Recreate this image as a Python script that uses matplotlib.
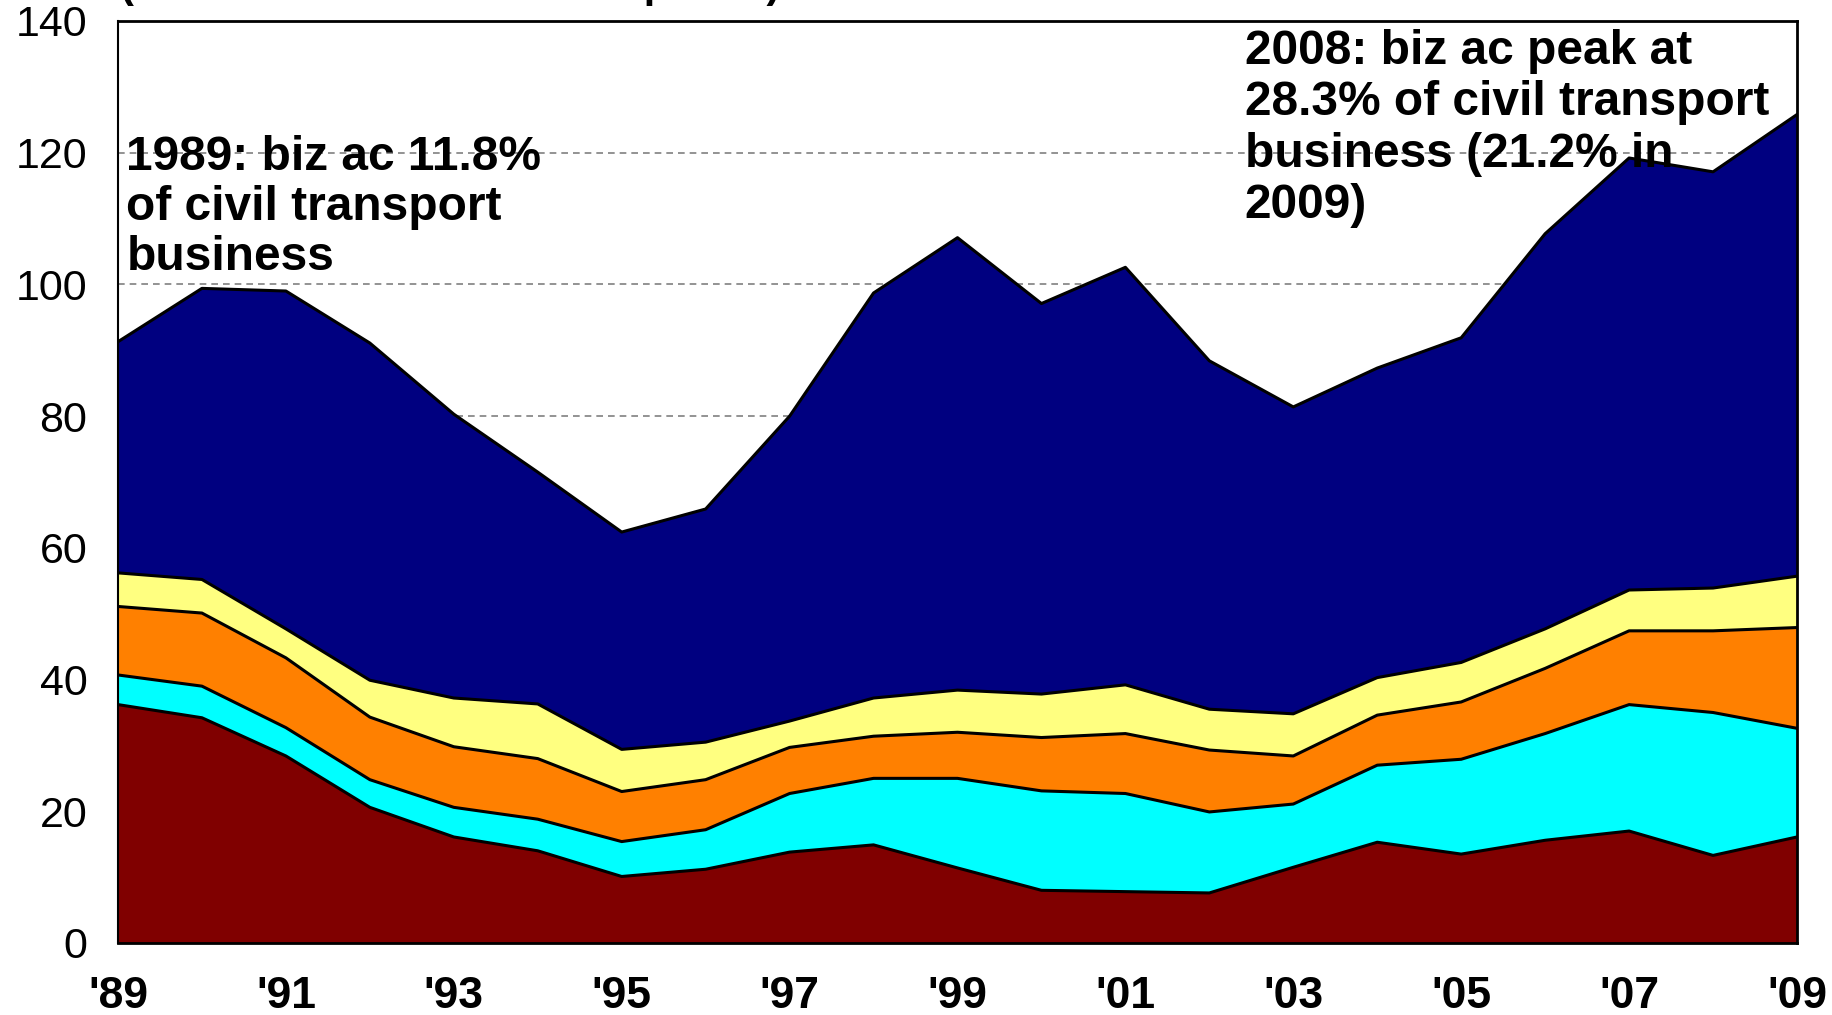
import numpy as np
import matplotlib.pyplot as plt

years = np.arange(1989, 2010)

# cumulative tops, bottom layer first
maroon_top = [36.2, 34.2, 28.4, 20.6, 16.1, 14.0, 10.1, 11.2, 13.8, 14.9, 11.4,
              8.0, 7.8, 7.6, 11.5, 15.3, 13.5, 15.6, 17.0, 13.3, 16.1]
cyan_top = [40.7, 39.0, 32.7, 24.8, 20.6, 18.8, 15.4, 17.2, 22.7, 25.0, 25.0,
            23.1, 22.7, 19.9, 21.1, 27.0, 27.9, 31.8, 36.2, 35.0, 32.6]
orange_top = [51.1, 50.1, 43.3, 34.3, 29.8, 28.0, 23.0, 24.8, 29.7, 31.4, 32.0,
              31.2, 31.8, 29.3, 28.4, 34.6, 36.6, 41.7, 47.4, 47.4, 47.9]
yellow_top = [56.2, 55.2, 47.7, 39.9, 37.2, 36.3, 29.4, 30.5, 33.7, 37.2, 38.4,
              37.8, 39.2, 35.5, 34.8, 40.3, 42.6, 47.7, 53.6, 53.9, 55.7]
navy_top = [91.3, 99.4, 99.0, 91.1, 80.3, 71.5, 62.4, 65.9, 80.0, 98.7, 107.1,
            97.1, 102.6, 88.4, 81.4, 87.3, 91.9, 107.7, 119.2, 117.1, 125.8]

layers = [maroon_top, cyan_top, orange_top, yellow_top, navy_top]
colors = ["#800000", "#00FFFF", "#FF8000", "#FFFF80", "#000080"]

xtick_years = list(range(1989, 2010, 2))
xtick_labels = ["'%02d" % (y % 100) for y in xtick_years]
yticks = [0, 20, 40, 60, 80, 100, 120, 140]

note_1989 = "1989: biz ac 11.8%\nof civil transport\nbusiness"
note_2008 = "2008: biz ac peak at\n28.3% of civil transport\nbusiness (21.2% in\n2009)"
title_text = "(Annual deliveries at 2009 prices)"

plt.rcParams["font.family"] = ["Liberation Sans", "DejaVu Sans"]

fig = plt.figure(figsize=(18.32, 10.15), dpi=100)
ax = fig.add_axes([118 / 1832, 1 - 943 / 1015, (1797 - 118) / 1832, (943 - 21) / 1015])

bottom = np.zeros(len(years))
for top, c in zip(layers, colors):
    top = np.array(top)
    ax.fill_between(years, bottom, top, facecolor=c, edgecolor="none", zorder=2)
    ax.plot(years, top, color="black", lw=2.2, zorder=3)
    bottom = top

for g in [20, 40, 60, 80, 100, 120]:
    ax.axhline(g, color="#808080", lw=1.2, ls=(0, (4, 3)), zorder=1)

ax.set_xlim(1989, 2009)
ax.set_ylim(0, 140)
ax.set_yticks(yticks)
ax.set_yticklabels([str(v) for v in yticks], fontsize=31)
ax.set_xticks(xtick_years)
ax.set_xticklabels(xtick_labels, fontsize=32, fontweight="bold")
ax.tick_params(axis="y", length=0, pad=22)
ax.tick_params(axis="x", length=0, pad=24)
for s in ax.spines.values():
    s.set_linewidth(2)
    s.set_zorder(4)
ax.spines["left"].set_linewidth(1.5)

ax.text(1989.1, 122.7, note_1989, fontsize=34.5, fontweight="bold", va="top",
        ha="left", linespacing=1.15, zorder=5)
ax.text(2002.42, 138.8, note_2008, fontsize=34.5, fontweight="bold", va="top",
        ha="left", linespacing=1.18, zorder=5)

fig.text(120 / 1832, 1 + 3 / 1015, title_text, fontsize=30, fontweight="bold",
         ha="left", va="baseline")

fig.savefig("out.png", dpi=100)
